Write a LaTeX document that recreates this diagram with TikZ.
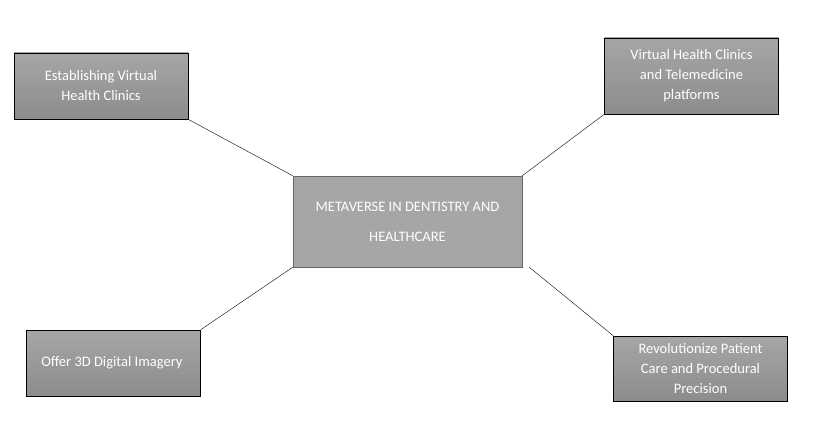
\documentclass[tikz,border=0pt]{standalone}
\usepackage{fontspec}
\setmainfont{Carlito}
\usetikzlibrary{positioning}

\begin{document}
\begin{tikzpicture}[x=1pt, y=-1pt]
	\tikzset{
		every block/.style={draw=black, line width=0.8pt, top color=gray!70,
			bottom color=gray!100!black!90, text=white, align=center,
			minimum width=174pt, font=\fontsize{14.5}{20}\selectfont},
		block centre/.style={draw=gray!80!black, fill=gray!70, text=white,
			align=center, minimum width=229pt, minimum height=91pt,
			font=\fontsize{14.5}{30}\selectfont}
	}
	\useasboundingbox (0,0) rectangle (813,428);

	% Centre
	\node [block centre] (centre) at (407.5,221.5) {
		METAVERSE IN DENTISTRY AND\\ HEALTHCARE
	};

	% Outer blocks
	\node [every block, minimum height=66pt] (clinics) at (101,86) {
		Establishing Virtual\\ Health Clinics
	};
	\node [every block, minimum height=76pt] (tele) at (691.5,76) {
		Virtual Health Clinics\\ and Telemedicine\\ platforms
	};
	\node [every block, minimum height=66pt] (imagery) at (113.5,363) {
		Offer 3D Digital Imagery
	};
	\node [every block, minimum height=65pt] (care) at (700.5,368.5) {
		Revolutionize Patient\\ Care and Procedural\\ Precision
	};

	\draw (clinics.south east) -- (centre.north west);
	\draw (tele.south west) -- (centre.north east);
	\draw (imagery.north east) -- (centre.south west);
	\draw ([xshift=7pt]centre.south east) -- (care.north west);
\end{tikzpicture}
\end{document}
